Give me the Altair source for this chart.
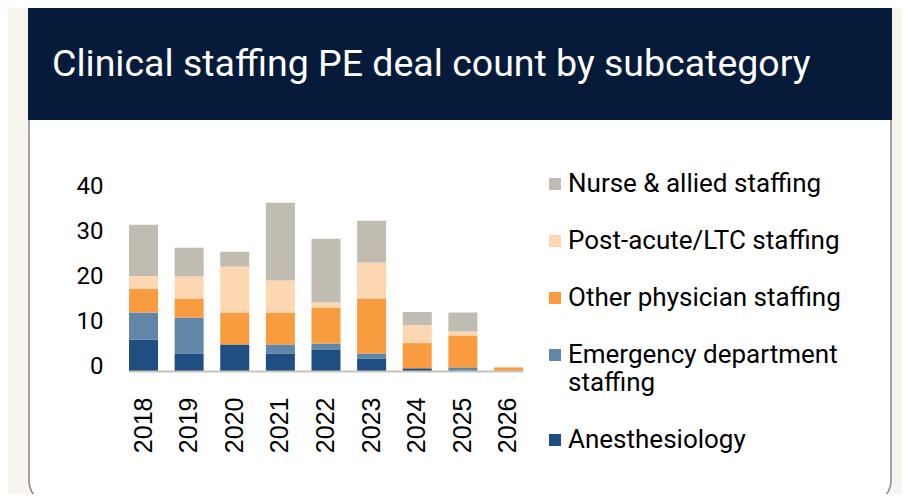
import altair as alt
import pandas as pd

years = ["2018", "2019", "2020", "2021", "2022", "2023", "2024", "2025", "2026"]
series = ["Nurse & allied staffing", "Post-acute/LTC staffing", "Other physician staffing",
          "Emergency department staffing", "Anesthesiology"]
colors = ["#c0bcb1", "#fdd6b2", "#f89c3f", "#6186a8", "#1e4f80"]

anesthesiology = [7.0, 3.9, 5.9, 3.9, 4.8, 2.8, 0.6, 0.0, 0.0]
emergency = [6.0, 8.0, 0.0, 2.0, 1.3, 1.1, 0.0, 0.8, 0.0]
other_phys = [5.3, 4.2, 7.1, 7.1, 8.0, 12.2, 5.6, 7.1, 0.8]
post_acute = [2.8, 4.9, 10.2, 7.1, 1.1, 8.0, 4.0, 0.9, 0.0]
nurse = [11.4, 6.4, 3.3, 17.3, 14.2, 9.3, 2.9, 4.2, 0.0]

title_text = "Clinical staffing PE deal count by subcategory"

rows = []
for s_idx, (name, vals) in enumerate(zip(
        ["Anesthesiology", "Emergency department staffing", "Other physician staffing",
         "Post-acute/LTC staffing", "Nurse & allied staffing"],
        [anesthesiology, emergency, other_phys, post_acute, nurse])):
    for y, v in zip(years, vals):
        rows.append({"year": y, "series": name, "value": v, "ord": s_idx})
df = pd.DataFrame(rows)

one = pd.DataFrame({"t": [title_text]})

card = alt.Chart(one).mark_rect(
    fill="white", stroke="#8a8883", strokeWidth=1.5,
    cornerRadiusBottomLeft=25, cornerRadiusBottomRight=25
).encode(x=alt.value(-100), x2=alt.value(762), y=alt.value(-73), y2=alt.value(314))

header = alt.Chart(one).mark_rect(fill="#061b3a").encode(
    x=alt.value(-101), x2=alt.value(763), y=alt.value(-190), y2=alt.value(-71))

title = alt.Chart(one).mark_text(
    align="left", baseline="alphabetic", font="Roboto", fontSize=37.5, color="white"
).encode(x=alt.value(-77), y=alt.value(-115), text="t:N")

bars = alt.Chart(df).mark_bar().encode(
    x=alt.X("year:N", sort=years,
            scale=alt.Scale(paddingInner=0.364, paddingOuter=0),
            axis=alt.Axis(title=None, labelAngle=270, labelFont="Liberation Sans",
                          labelFontSize=25, labelColor="black", ticks=False,
                          labelPadding=26, domainColor="#c8c4bc", domainWidth=2,
                          zindex=2)),
    y=alt.Y("value:Q", stack="zero",
            scale=alt.Scale(domain=[0, 40], nice=False),
            axis=alt.Axis(title=None, values=[0, 10, 20, 30, 40], grid=False,
                          domain=False, ticks=False, labelFont="Roboto",
                          labelFontSize=24, labelColor="black", labelPadding=26,
                          labelOffset=-5, zindex=2)),
    color=alt.Color("series:N",
                    scale=alt.Scale(domain=series, range=colors),
                    legend=alt.Legend(
                        title=None, orient="none", legendX=413, legendY=-20,
                        symbolType="square", symbolSize=144, symbolStrokeWidth=0,
                        labelFont="Roboto", labelFontSize=26, labelColor="black",
                        labelOffset=0, rowPadding=31, labelLimit=400, zindex=2,
                        labelExpr="datum.label == 'Emergency department staffing' ? ['Emergency department', 'staffing'] : datum.label")),
    order=alt.Order("ord:Q", sort="ascending"),
)

chart = alt.layer(card, header, title, bars).properties(
    width=394, height=180,
    padding={"left": 121, "top": 183, "right": 379, "bottom": 123},
    autosize=alt.AutoSizeParams(type="none"),
    background="#f7f4ee",
).configure_view(stroke=None)

chart.save("out.html", embed_options={"renderer": "svg", "actions": False})
